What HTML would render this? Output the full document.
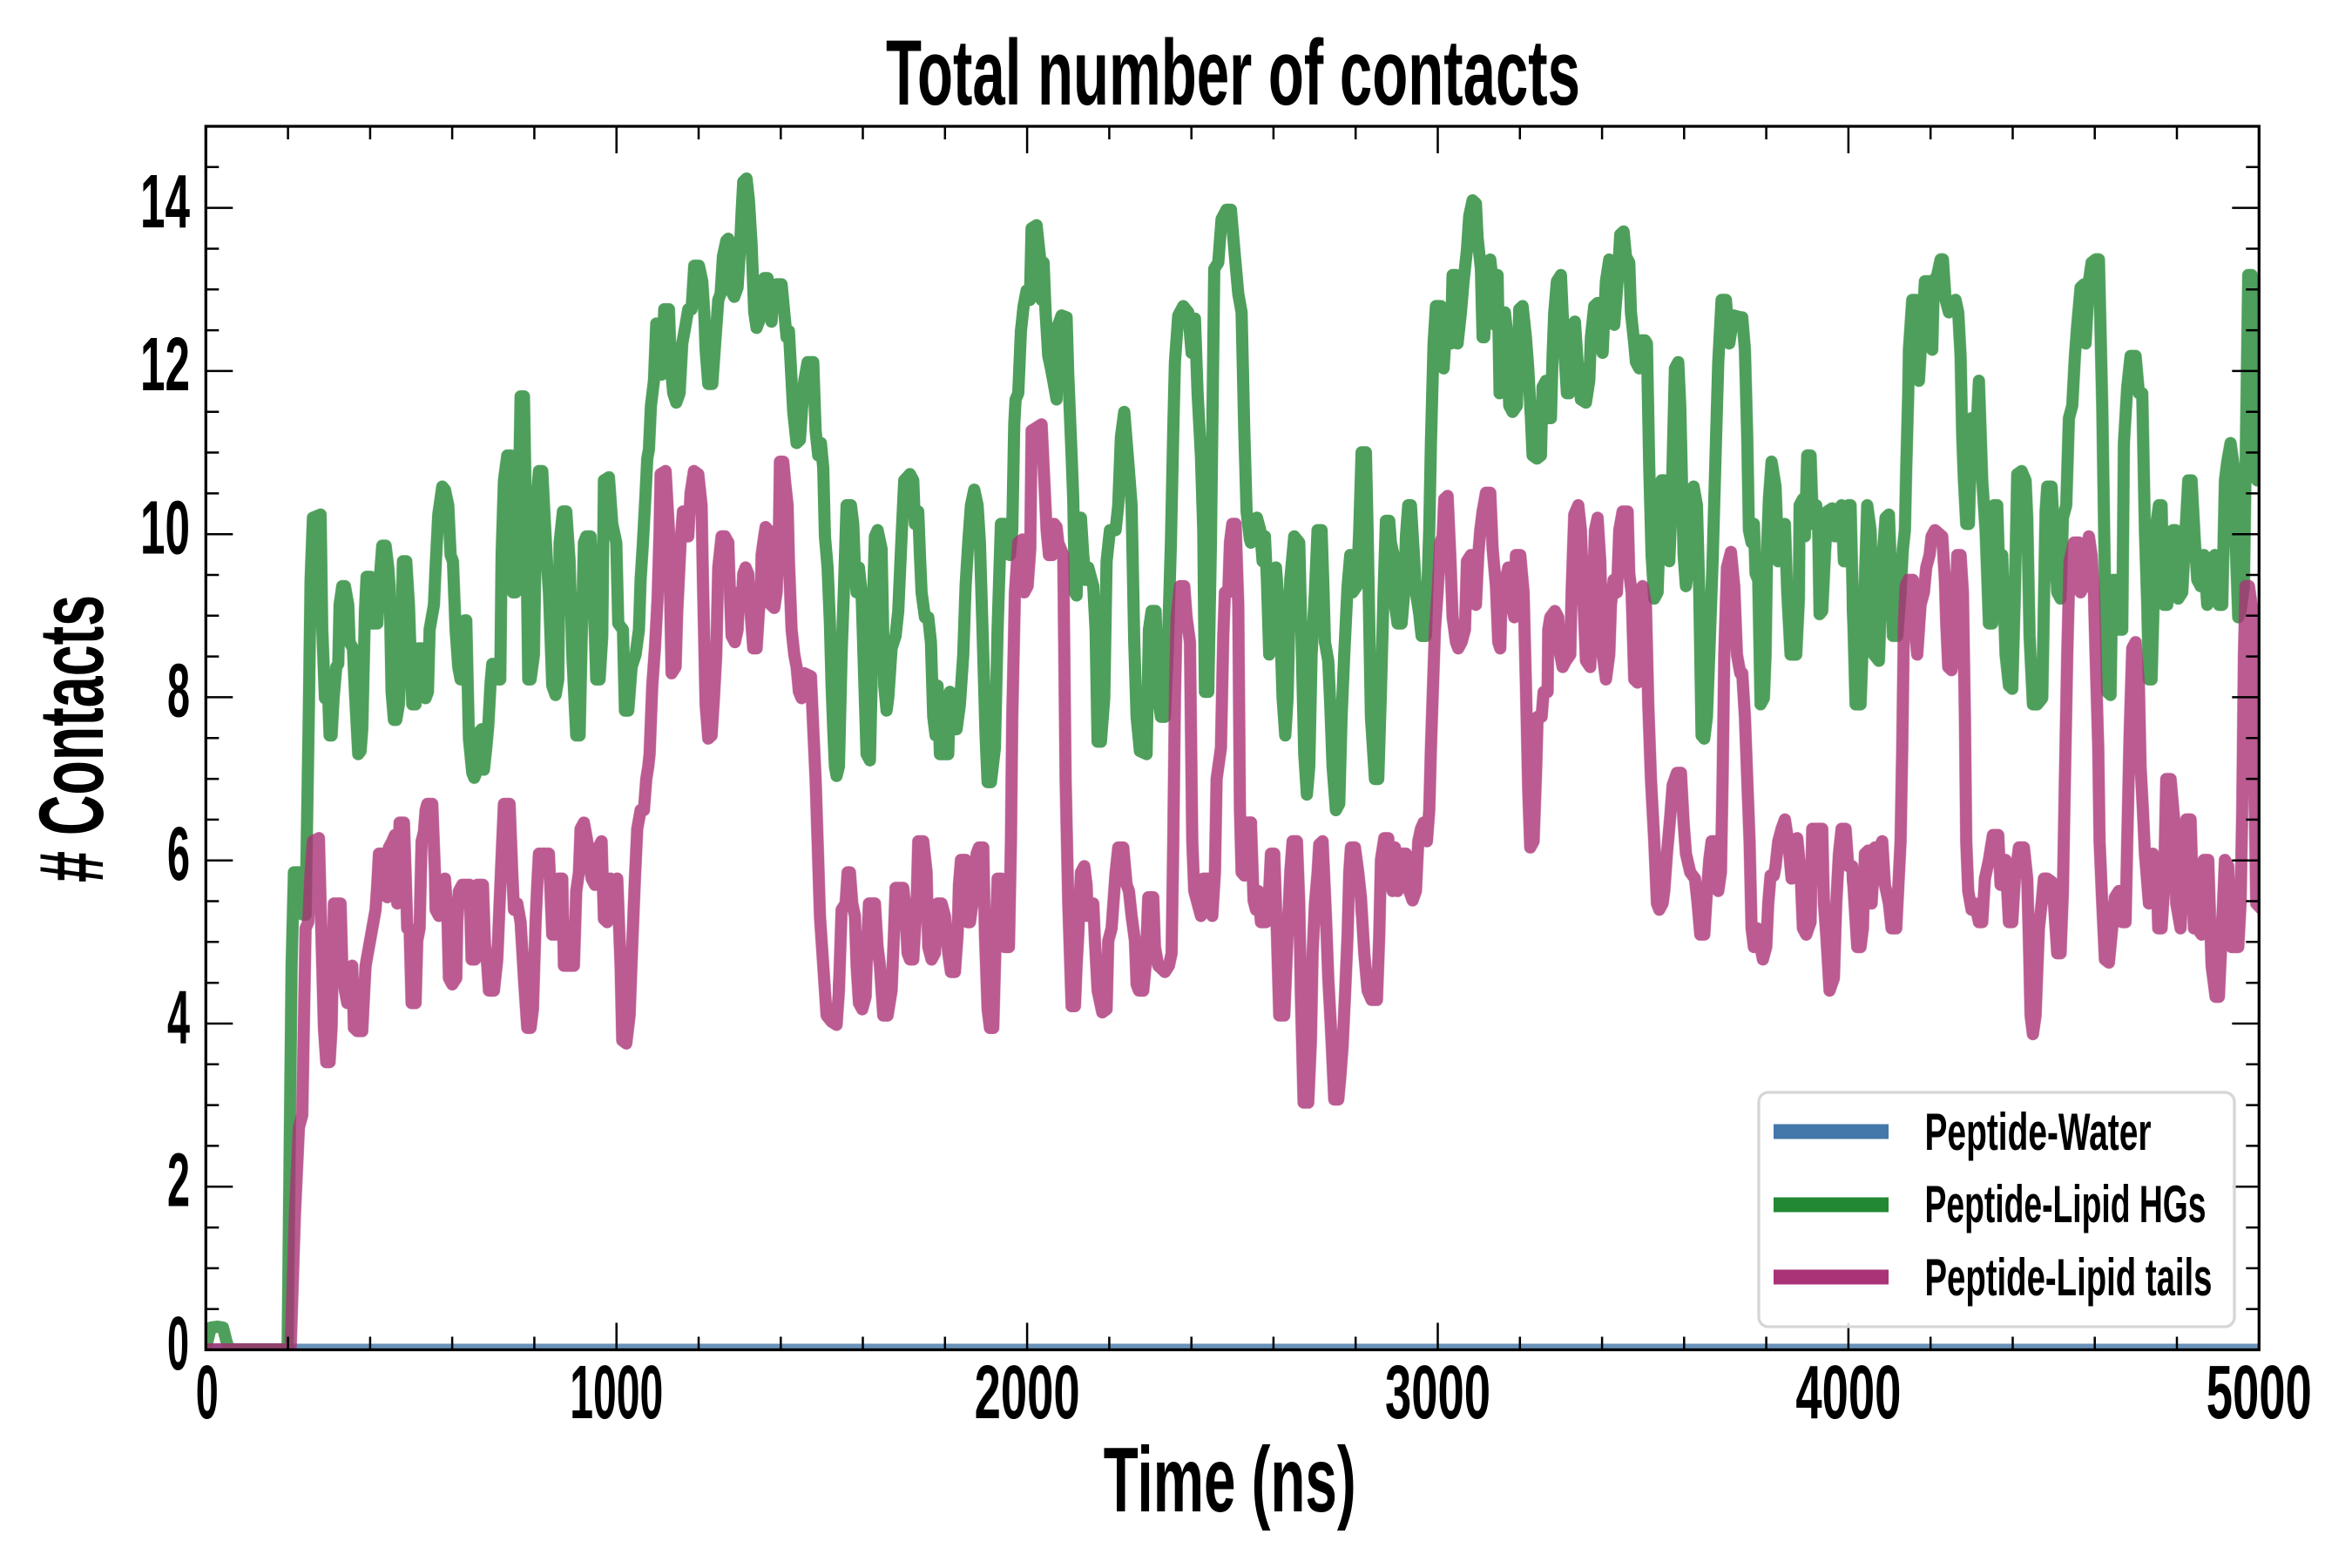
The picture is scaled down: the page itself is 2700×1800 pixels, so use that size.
<!DOCTYPE html>
<html>
<head>
<meta charset="utf-8">
<style>
html,body{margin:0;padding:0;background:#fff;}
svg{display:block;}
text{font-family:"Liberation Sans Narrow","Liberation Sans",sans-serif;font-weight:bold;fill:#000;}
</style>
</head>
<body>
<svg width="2700" height="1800" viewBox="0 0 2700 1800" xmlns="http://www.w3.org/2000/svg">
<defs>
<clipPath id="ax" clipPathUnits="userSpaceOnUse"><rect x="236.3" y="145" width="2357" height="1404.5"/></clipPath>
</defs>
<rect width="2700" height="1800" fill="#fff"/>

<!-- Water -->
<g clip-path="url(#ax)" opacity="0.8">
<line x1="236" y1="1549.5" x2="2594" y2="1549.5" stroke="#4477AA" stroke-width="14"/>
</g>

<!-- Lipid HGs -->
<g clip-path="url(#ax)" opacity="0.8" fill="none" stroke="#228833" stroke-width="14" stroke-linejoin="round" stroke-linecap="round">
<polyline points="230,1549 236,1549 242,1524 250,1523 256,1524 260,1540 263,1549 330,1549"/>
<g transform="translate(236,180) scale(0.38266,0.714286)">
<polyline vector-effect="non-scaling-stroke" points="246,1918 258,1300 265,1150 285,1150 292,1218 300,1218 305,1050 310,880 315,680 322,580 345,575 350,760 358,870 368,870 372,930 378,930 384,870 392,820 398,815 402,720 410,690 418,690 428,720 432,780 442,790 448,860 458,960 465,955 470,920 478,730 483,675 495,675 500,750 515,750 520,700 525,660 530,625 540,625 548,660 552,690 558,860 565,905 572,905 580,880 585,800 592,650 602,650 610,720 615,800 620,880 630,880 638,790 648,790 660,870 667,860 672,760 685,720 690,660 698,575 702,560 710,530 718,535 728,560 735,640 742,650 750,760 758,820 765,840 772,750 778,745 782,745 790,935 800,990 806,998 812,990 820,925 828,920 835,985 842,950 848,915 855,845 860,815 870,815 878,840 884,840 888,640 895,520 905,480 916,480 920,600 922,700 930,700 938,610 945,385 955,385 962,600 968,840 975,840 985,800 992,560 1000,505 1010,505 1018,590 1025,660 1030,700 1040,850 1050,865 1058,840 1062,620 1072,570 1082,570 1092,650 1100,800 1112,930 1122,930 1128,780 1135,620 1142,610 1155,610 1165,720 1172,840 1182,840 1190,770 1195,520 1210,515 1220,590 1232,620 1238,750 1252,760 1258,890 1268,890 1278,820 1290,800 1300,760 1305,680 1312,620 1320,540 1325,485 1330,470 1336,400 1345,360 1352,268 1360,270 1368,350 1376,245 1390,245 1396,340 1403,380 1412,395 1422,380 1430,300 1440,270 1448,245 1458,245 1466,175 1480,175 1490,200 1496,250 1500,310 1508,365 1520,365 1530,290 1538,230 1545,220 1552,160 1562,135 1568,132"/>
</g>
<g transform="translate(836,180) scale(0.38266,0.714286)">
<polyline vector-effect="non-scaling-stroke" points="0,132 8,215 18,225 28,210 35,150 40,90 45,40 55,35 62,70 70,140 78,250 85,275 92,265 98,255 102,215 108,195 118,195 122,250 130,265 135,215 145,205 160,205 168,250 175,290 182,280 188,340 195,410 205,460 215,455 222,400 228,360 238,330 255,330 262,440 270,480 278,460 285,500 290,610 298,660 305,750 310,850 315,920 320,980 325,995 332,980 340,800 348,680 355,560 368,560 375,590 380,660 385,700 392,660 400,700 408,840 415,960 425,970 430,850 435,700 440,610 448,600 460,630 468,850 475,890 480,870 485,830 490,790 502,770 510,730 520,610 528,520 545,510 555,520 560,590 570,570 575,640 580,700 590,740 600,740 608,780 615,900 622,930 628,850 635,960 660,960 665,860 675,870 685,920 695,880 705,800 712,690 720,620 728,560 738,535 748,560 755,620 765,800 772,930 778,1005 788,1005 800,950 808,760 818,590 830,590 840,610 845,640 852,600 858,430 862,390 870,380 878,280 886,240 895,215 905,230 910,115 925,110 935,160 940,230 946,170 952,250 960,320 968,340 975,360 985,390 990,270 1000,255 1015,258 1020,350 1030,480 1035,550 1040,700 1045,705 1050,600 1058,580 1065,640 1072,680 1080,660 1095,690 1102,760 1108,940 1118,940 1128,870 1135,650 1145,600 1162,600 1170,560 1178,450 1188,410 1200,490 1210,560 1218,780 1225,900 1235,955 1255,960 1262,760 1270,730 1282,730 1290,870 1298,900 1310,900 1318,800 1328,620 1335,440 1340,330 1350,255 1365,240 1380,250 1390,315 1400,260 1408,380 1418,480 1425,600 1430,860 1440,860 1448,620 1458,180 1470,170 1480,100 1495,85 1508,85 1520,160 1530,220 1540,250 1548,440 1555,570 1565,615 1568,620"/>
</g>
<g transform="translate(1436,180) scale(0.38266,0.714286)">
<polyline vector-effect="non-scaling-stroke" points="0,620 10,590 18,580 28,600 35,650 42,610 48,680 55,800 65,670 75,660 88,750 95,870 103,930 110,870 118,680 130,610 145,620 152,780 160,960 168,1025 175,980 182,800 192,700 200,600 212,600 218,700 222,780 232,810 238,880 245,980 255,1050 265,1040 272,900 280,800 290,690 298,640 305,700 318,690 325,600 332,475 345,475 350,600 355,750 360,900 372,1000 382,1000 390,860 398,700 405,585 415,585 420,620 428,640 432,720 440,750 452,750 460,700 465,610 472,560 480,560 490,650 495,700 505,735 512,770 525,770 535,600 540,460 548,300 555,240 570,240 578,340 585,280 595,260 600,300 605,190 615,190 620,300 630,250 638,200 648,150 655,95 665,70 675,75 680,130 690,180 695,290 700,290 708,200 718,165 725,200 732,270 740,190 746,380 755,330 762,250 768,280 775,400 785,410 798,400 805,245 815,240 825,290 832,340 840,420 845,480 858,485 870,480 875,370 885,360 890,420 900,420 905,320 910,250 918,200 930,190 935,250 940,310 948,380 955,380 962,270 972,265 980,330 990,390 1005,395 1015,360 1020,290 1030,240 1040,235 1045,290 1055,315 1065,200 1075,165 1080,200 1090,270 1100,200 1108,125 1118,120 1125,160 1135,170 1140,250 1150,300 1155,330 1165,340 1172,295 1182,295 1188,300 1195,500 1202,640 1210,710 1220,700 1225,620 1232,520 1240,520 1248,540 1255,650 1262,560 1272,340 1282,330 1288,400 1298,640 1305,690 1312,660 1318,540 1328,530 1338,560 1345,700 1352,930 1360,935 1368,900 1375,800 1385,650 1395,460 1402,330 1412,230 1425,230 1435,300 1448,255 1468,258"/>
</g>
<g transform="translate(2000,180) scale(0.38266,0.714286)">
<polyline vector-effect="non-scaling-stroke" points="0,258 8,310 15,450 20,600 28,620 35,590 40,670 48,680 55,880 65,870 70,800 75,620 80,550 88,490 100,530 108,650 115,600 128,590 135,700 145,800 162,800 170,710 172,560 182,550 188,610 195,480 205,480 212,590 222,560 228,600 232,735 240,730 248,640 255,570 270,565 278,610 285,570 298,560 305,650 312,650 318,560 325,560 332,720 340,880 355,880 365,730 375,560 385,600 395,800 410,810 420,650 430,580 440,575 448,690 452,770 465,770 475,700 482,630 488,600 492,500 498,380 500,310 510,230 520,230 530,360 540,270 548,200 560,200 570,310 575,200 585,190 595,165 602,165 610,230 620,250 630,240 640,230 648,250 655,320 660,450 665,520 672,590 680,590 688,420 700,470 710,360 720,520 730,600 740,750 750,750 755,560 765,560 770,650 780,640 790,800 800,850 810,855 818,700 825,510 838,505 850,520 855,580 862,770 872,880 885,880 900,870 910,570 915,530 928,530 935,600 945,700 955,710 962,580 972,560 980,420 990,400 998,320 1005,270 1015,210 1025,205 1030,300 1040,200 1048,170 1060,165 1070,165 1080,400 1088,680 1095,860 1105,865 1110,680 1120,680 1130,760 1140,760 1145,460 1155,370 1165,320 1180,320 1190,380 1200,380 1208,600 1215,720 1220,840 1228,840 1235,700 1240,600 1250,560 1258,560 1265,720 1275,720 1285,660 1292,600 1300,600 1308,710 1320,700 1330,600 1338,520 1348,520 1358,620 1365,680 1375,690 1385,640 1395,720 1405,650 1418,640 1430,720 1440,720 1448,520 1455,490 1465,460 1475,500 1480,620 1488,740 1495,730 1505,690 1510,500 1518,190 1528,190 1538,300 1545,520 1560,520"/>
</g>
</g>

<!-- Lipid tails -->
<g clip-path="url(#ax)" opacity="0.8" fill="none" stroke="#AA3377" stroke-width="14" stroke-linejoin="round" stroke-linecap="round">
<polyline points="230,1549 333,1549"/>
<g transform="translate(236,180) scale(0.38266,0.714286)">
<polyline vector-effect="non-scaling-stroke" points="255,1918 268,1700 280,1560 290,1540 300,1240 308,1230 315,1150 322,1100 340,1095 345,1200 350,1300 355,1400 362,1455 372,1455 378,1400 385,1200 392,1200 405,1200 410,1300 418,1340 425,1360 428,1310 440,1300 445,1400 455,1405 470,1405 475,1350 480,1300 490,1270 500,1240 510,1210 515,1170 520,1120 535,1120 540,1170 545,1190 550,1110 560,1100 568,1090 575,1200 582,1070 595,1070 600,1150 605,1240 612,1240 618,1360 630,1360 635,1260 642,1240 648,1100 655,1085 660,1050 665,1040 680,1040 688,1150 690,1210 700,1220 708,1210 712,1170 718,1160 725,1210 730,1320 740,1330 752,1320 755,1230 760,1180 770,1170 792,1170 798,1290 808,1290 815,1170 832,1170 838,1265 845,1300 850,1340 865,1340 875,1290 882,1200 890,1100 895,1040 912,1040 920,1150 925,1210 935,1200 945,1230 955,1320 965,1400 975,1400 982,1370 990,1230 995,1170 1000,1120 1030,1120 1040,1250 1050,1250 1058,1160 1070,1160 1075,1300 1105,1300 1112,1180 1120,1150 1125,1080 1135,1070 1145,1100 1158,1160 1168,1170 1178,1110 1188,1100 1195,1225 1205,1230 1215,1160 1225,1165 1235,1160 1245,1300 1250,1420 1262,1425 1272,1380 1280,1265 1288,1160 1295,1080 1305,1050 1315,1050 1322,1000 1328,980 1332,960 1340,850 1348,790 1356,710 1362,600 1365,510 1380,505 1390,600 1398,830 1410,820 1415,730 1425,620 1432,570 1440,580 1448,610 1455,540 1465,505 1478,510 1488,560 1492,680 1500,880 1508,935 1518,930 1525,870 1532,800 1538,660 1548,610 1558,610 1568,620"/>
</g>
<g transform="translate(836,180) scale(0.38266,0.714286)">
<polyline vector-effect="non-scaling-stroke" points="0,620 5,700 10,770 20,780 28,760 33,700 40,720 45,670 52,660 60,670 68,740 75,790 85,790 92,730 98,700 100,640 105,620 112,595 120,600 125,650 128,720 138,725 145,700 152,600 155,490 165,490 170,520 178,560 182,650 190,760 198,800 205,820 212,860 220,870 228,830 248,835 255,920 262,1000 268,1100 275,1220 285,1300 295,1380 310,1390 325,1395 332,1340 340,1210 352,1200 358,1150 365,1150 372,1200 380,1220 385,1300 392,1360 402,1370 412,1350 418,1250 422,1200 440,1200 448,1270 455,1300 465,1380 478,1380 490,1340 497,1250 502,1175 525,1175 530,1200 538,1280 545,1290 555,1290 565,1200 570,1100 585,1100 595,1150 600,1270 610,1290 620,1280 628,1200 640,1200 650,1220 660,1280 668,1310 680,1310 688,1250 692,1170 698,1130 712,1130 718,1230 725,1230 735,1190 745,1120 752,1110 765,1110 770,1250 778,1370 785,1400 795,1400 800,1300 808,1160 820,1160 830,1270 842,1270 848,1100 852,900 860,700 870,620 882,615 888,700 898,690 906,630 910,440 940,430 948,520 955,600 962,640 972,640 978,590 985,595 990,620 1005,640 1012,1000 1020,1200 1030,1365 1040,1365 1045,1300 1050,1250 1058,1150 1068,1140 1075,1170 1078,1220 1088,1220 1095,1200 1100,1260 1108,1340 1122,1375 1135,1370 1140,1260 1150,1240 1158,1180 1162,1150 1170,1110 1185,1110 1195,1170 1202,1180 1210,1220 1220,1260 1225,1330 1232,1340 1245,1340 1252,1300 1260,1190 1275,1190 1280,1270 1290,1300 1310,1310 1322,1300 1330,1280 1335,1100 1340,870 1345,740 1355,690 1368,690 1375,740 1385,780 1392,1100 1398,1180 1408,1200 1418,1220 1425,1160 1440,1160 1452,1220 1460,1150 1465,1000 1478,950 1485,770 1490,700 1500,700 1505,620 1512,590 1522,590 1530,720 1535,1050 1540,1150 1548,1155 1555,1070 1568,1070"/>
</g>
<g transform="translate(1436,180) scale(0.38266,0.714286)">
<polyline vector-effect="non-scaling-stroke" points="0,1070 8,1195 15,1210 22,1180 30,1230 45,1230 52,1210 60,1120 70,1120 78,1250 85,1380 100,1380 110,1250 118,1150 125,1100 138,1100 145,1200 150,1350 158,1520 172,1520 180,1420 185,1280 192,1200 200,1150 205,1105 215,1100 225,1220 232,1320 240,1400 250,1515 262,1515 268,1480 275,1430 282,1350 290,1250 295,1150 300,1110 312,1110 322,1150 330,1190 340,1280 350,1340 362,1355 378,1355 385,1250 390,1130 400,1095 412,1095 418,1160 425,1180 432,1110 440,1180 452,1120 465,1120 475,1180 485,1195 495,1180 502,1100 510,1080 518,1070 528,1100 535,1050 540,950 545,870 552,760 560,700 568,620 575,610 580,550 590,545 598,640 605,740 615,780 622,790 632,780 642,760 648,650 660,640 668,700 675,720 682,640 688,600 695,570 705,540 718,540 725,630 735,690 742,780 748,790 752,700 760,690 772,660 782,720 790,740 795,640 808,640 818,700 825,850 832,1020 838,1110 848,1100 856,980 860,900 872,900 878,860 890,860 892,760 898,740 912,730 922,740 928,800 935,820 945,810 958,800 962,700 970,575 982,560 990,600 998,720 1005,810 1018,820 1025,720 1032,600 1040,580 1048,650 1055,800 1065,840 1075,800 1080,720 1088,680 1098,700 1105,600 1115,570 1130,570 1135,670 1142,700 1150,840 1160,845 1168,720 1175,690 1185,720 1192,880 1200,1000 1210,1100 1218,1200 1225,1210 1235,1200 1240,1180 1248,1120 1258,1060 1265,1010 1278,990 1290,990 1298,1070 1305,1120 1318,1150 1332,1160 1340,1200 1348,1250 1360,1250 1368,1180 1375,1130 1382,1100 1392,1100 1402,1180 1410,1150 1415,1000 1420,800 1428,660 1440,635 1450,690 1458,800 1468,830"/>
</g>
<g transform="translate(2000,180) scale(0.38266,0.714286)">
<polyline vector-effect="non-scaling-stroke" points="0,830 8,900 15,1000 22,1100 28,1240 35,1270 45,1240 55,1270 62,1290 72,1270 78,1200 85,1155 95,1155 100,1140 108,1100 118,1080 128,1065 138,1100 148,1160 155,1100 165,1095 175,1150 182,1240 192,1250 205,1230 210,1080 240,1080 245,1200 252,1250 262,1340 275,1320 282,1200 290,1120 298,1080 310,1080 318,1140 330,1140 338,1210 345,1270 355,1270 362,1240 368,1120 378,1115 388,1200 398,1110 412,1110 420,1100 428,1170 440,1200 448,1240 462,1240 475,1100 480,950 485,750 490,690 498,680 512,680 518,760 525,800 535,720 545,700 552,660 562,640 568,610 578,600 600,610 608,680 612,750 618,820 628,825 638,780 645,640 655,640 662,700 668,900 672,1100 678,1180 688,1210 698,1200 710,1230 720,1230 728,1160 740,1130 752,1090 768,1090 775,1170 782,1150 790,1130 800,1230 810,1230 818,1160 830,1110 845,1110 855,1160 860,1260 865,1380 872,1410 880,1380 885,1310 890,1240 898,1200 905,1160 915,1160 928,1165 935,1200 945,1280 955,1280 962,1180 968,1000 975,800 982,650 995,620 1010,620 1015,700 1025,690 1032,640 1040,610 1048,640 1055,700 1060,800 1068,950 1072,1100 1080,1200 1088,1290 1100,1295 1108,1250 1118,1190 1130,1180 1140,1230 1150,1230 1155,1100 1162,930 1170,790 1180,780 1190,850 1195,980 1202,1050 1208,1120 1220,1200 1232,1120 1242,1130 1248,1240 1258,1240 1265,1180 1272,1000 1285,1000 1295,1060 1302,1200 1315,1240 1322,1160 1332,1065 1345,1065 1355,1240 1365,1240 1378,1250 1385,1130 1398,1130 1408,1300 1420,1350 1430,1350 1440,1230 1448,1130 1458,1140 1468,1270 1488,1270 1495,1200 1500,1050 1505,800 1510,690 1520,690 1528,720 1535,950 1542,1200 1560,1210"/>
</g>
</g>

<!-- Ticks -->
<g stroke="#000" stroke-width="2.5" fill="none">
<path d="M236.3,1549.5v-31M707.7,1549.5v-31M1179.1,1549.5v-31M1650.5,1549.5v-31M2121.9,1549.5v-31M2593.3,1549.5v-31
M236.3,145v31M707.7,145v31M1179.1,145v31M1650.5,145v31M2121.9,145v31M2593.3,145v31"/>
<path d="M330.6,1549.5v-15M424.9,1549.5v-15M519.1,1549.5v-15M613.4,1549.5v-15M802.0,1549.5v-15M896.3,1549.5v-15M990.5,1549.5v-15M1084.8,1549.5v-15M1273.4,1549.5v-15M1367.7,1549.5v-15M1461.9,1549.5v-15M1556.2,1549.5v-15M1744.8,1549.5v-15M1839.1,1549.5v-15M1933.3,1549.5v-15M2027.6,1549.5v-15M2216.2,1549.5v-15M2310.5,1549.5v-15M2404.7,1549.5v-15M2499.0,1549.5v-15
M330.6,145v15M424.9,145v15M519.1,145v15M613.4,145v15M802.0,145v15M896.3,145v15M990.5,145v15M1084.8,145v15M1273.4,145v15M1367.7,145v15M1461.9,145v15M1556.2,145v15M1744.8,145v15M1839.1,145v15M1933.3,145v15M2027.6,145v15M2216.2,145v15M2310.5,145v15M2404.7,145v15M2499.0,145v15"/>
<path d="M236.3,1549.5h31M236.3,1362.2h31M236.3,1175.0h31M236.3,987.7h31M236.3,800.4h31M236.3,613.2h31M236.3,425.9h31M236.3,238.6h31
M2593.3,1549.5h-31M2593.3,1362.2h-31M2593.3,1175.0h-31M2593.3,987.7h-31M2593.3,800.4h-31M2593.3,613.2h-31M2593.3,425.9h-31M2593.3,238.6h-31"/>
<path d="M236.3,1502.7h15M236.3,1455.9h15M236.3,1409.1h15M236.3,1315.4h15M236.3,1268.6h15M236.3,1221.8h15M236.3,1128.2h15M236.3,1081.3h15M236.3,1034.5h15M236.3,940.9h15M236.3,894.1h15M236.3,847.3h15M236.3,753.6h15M236.3,706.8h15M236.3,660.0h15M236.3,566.4h15M236.3,519.5h15M236.3,472.7h15M236.3,379.1h15M236.3,332.3h15M236.3,285.5h15M236.3,191.8h15
M2593.3,1502.7h-15M2593.3,1455.9h-15M2593.3,1409.1h-15M2593.3,1315.4h-15M2593.3,1268.6h-15M2593.3,1221.8h-15M2593.3,1128.2h-15M2593.3,1081.3h-15M2593.3,1034.5h-15M2593.3,940.9h-15M2593.3,894.1h-15M2593.3,847.3h-15M2593.3,753.6h-15M2593.3,706.8h-15M2593.3,660.0h-15M2593.3,566.4h-15M2593.3,519.5h-15M2593.3,472.7h-15M2593.3,379.1h-15M2593.3,332.3h-15M2593.3,285.5h-15M2593.3,191.8h-15"/>
</g>

<!-- Spines -->
<rect x="236.3" y="145" width="2357" height="1404.5" fill="none" stroke="#000" stroke-width="3.3"/>

<!-- Legend -->
<rect x="2019" y="1254" width="546" height="269" rx="11" ry="11" fill="#fff" fill-opacity="0.85" stroke="#d6d6d6" stroke-width="3.3"/>
<line x1="2036" y1="1299" x2="2168" y2="1299" stroke="#4477AA" stroke-width="17"/>
<line x1="2036" y1="1383" x2="2168" y2="1383" stroke="#228833" stroke-width="17"/>
<line x1="2036" y1="1466" x2="2168" y2="1466" stroke="#AA3377" stroke-width="17"/>
<text x="2209.5" y="1320" font-size="60" textLength="260" lengthAdjust="spacingAndGlyphs">Peptide-Water</text>
<text x="2209.5" y="1403" font-size="60" textLength="323" lengthAdjust="spacingAndGlyphs">Peptide-Lipid HGs</text>
<text x="2209.5" y="1487" font-size="60" textLength="330" lengthAdjust="spacingAndGlyphs">Peptide-Lipid tails</text>

<!-- Y tick labels -->
<g font-size="87">
<text x="192" y="1572" textLength="25" lengthAdjust="spacingAndGlyphs">0</text>
<text x="192" y="1384.5" textLength="26" lengthAdjust="spacingAndGlyphs">2</text>
<text x="192" y="1197.5" textLength="26" lengthAdjust="spacingAndGlyphs">4</text>
<text x="192" y="1010" textLength="26" lengthAdjust="spacingAndGlyphs">6</text>
<text x="192" y="822.5" textLength="26" lengthAdjust="spacingAndGlyphs">8</text>
<text x="161" y="635.5" textLength="57" lengthAdjust="spacingAndGlyphs">10</text>
<text x="161" y="448" textLength="57" lengthAdjust="spacingAndGlyphs">12</text>
<text x="161" y="261" textLength="57" lengthAdjust="spacingAndGlyphs">14</text>
</g>

<!-- X tick labels -->
<g font-size="87">
<text x="224.8" y="1628" textLength="26" lengthAdjust="spacingAndGlyphs">0</text>
<text x="654.2" y="1628" textLength="107" lengthAdjust="spacingAndGlyphs">1000</text>
<text x="1118.6" y="1628" textLength="121" lengthAdjust="spacingAndGlyphs">2000</text>
<text x="1590" y="1628" textLength="121" lengthAdjust="spacingAndGlyphs">3000</text>
<text x="2061.4" y="1628" textLength="121" lengthAdjust="spacingAndGlyphs">4000</text>
<text x="2532.8" y="1628" textLength="121" lengthAdjust="spacingAndGlyphs">5000</text>
</g>

<!-- Axis labels and title -->
<text x="1266.7" y="1735" font-size="106" textLength="290" lengthAdjust="spacingAndGlyphs">Time (ns)</text>
<text transform="translate(118,1013) rotate(-90)" x="0" y="0" font-size="105" textLength="330" lengthAdjust="spacingAndGlyphs"># Contacts</text>
<text x="1017" y="120" font-size="107" textLength="797" lengthAdjust="spacingAndGlyphs">Total number of contacts</text>
</svg>
</body>
</html>
